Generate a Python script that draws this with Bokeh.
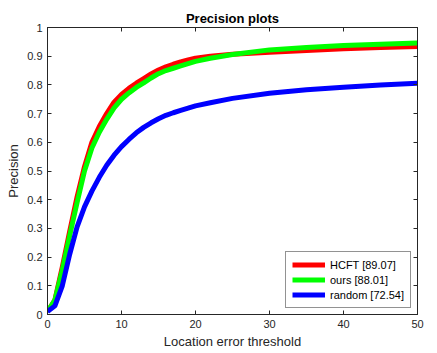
from bokeh.plotting import figure
from bokeh.models import LinearAxis, Range1d, Legend, LegendItem, FixedTicker, CustomJSTickFormatter
from bokeh.embed import file_html
from bokeh.resources import INLINE

thresholds = [0, 1, 2, 3, 4, 5, 6, 7, 8, 9, 10, 11, 12, 13, 14, 15, 16, 17, 18, 19, 20,
              22, 25, 30, 35, 40, 45, 50]
hcft = [0.01, 0.05, 0.165, 0.29, 0.41, 0.515, 0.60, 0.655, 0.70, 0.74, 0.767, 0.788, 0.806,
        0.822, 0.838, 0.852, 0.863, 0.872, 0.88, 0.887, 0.893, 0.90, 0.907, 0.914,
        0.92, 0.926, 0.93, 0.934]
ours = [0.01, 0.05, 0.155, 0.275, 0.39, 0.50, 0.58, 0.635, 0.68, 0.72, 0.75, 0.772, 0.791,
        0.807, 0.824, 0.839, 0.85, 0.858, 0.866, 0.874, 0.882, 0.893, 0.906, 0.922,
        0.93, 0.937, 0.942, 0.946]
rand = [0.01, 0.03, 0.10, 0.21, 0.305, 0.375, 0.43, 0.478, 0.52, 0.555, 0.585, 0.61, 0.633,
        0.652, 0.668, 0.682, 0.694, 0.703, 0.711, 0.719, 0.727, 0.738, 0.753, 0.771,
        0.783, 0.792, 0.80, 0.806]
labels = ["HCFT [89.07]", "ours [88.01]", "random [72.54]"]
colors = ["#ff0000", "#00ff00", "#0000ff"]
x_ticks = [0, 10, 20, 30, 40, 50]
y_ticks = [0, 0.1, 0.2, 0.3, 0.4, 0.5, 0.6, 0.7, 0.8, 0.9, 1]

FONT = "Liberation Sans"
AX = "#262626"

p = figure(width=437, height=353, output_backend="svg", toolbar_location=None,
           x_range=Range1d(0, 50), y_range=Range1d(0, 1),
           min_border_left=47, min_border_right=20, min_border_top=27, min_border_bottom=39)
p.title.text = "Precision plots"
p.title.align = "center"
p.title.text_font = FONT
p.title.text_font_size = "13px"
p.title.text_font_style = "bold"
p.title.text_color = "#000000"
p.title.standoff = 4
p.grid.visible = False
p.outline_line_color = AX

for ax, ticks in ((p.xaxis[0], x_ticks), (p.yaxis[0], y_ticks)):
    ax.ticker = FixedTicker(ticks=ticks)
    ax.major_tick_in = 4
    ax.major_tick_out = 0
    ax.minor_tick_line_color = None
    ax.axis_line_color = AX
    ax.major_tick_line_color = AX
    ax.major_label_text_font = FONT
    ax.major_label_text_font_size = "11px"
    ax.major_label_text_color = AX
    ax.axis_label_text_font = FONT
    ax.axis_label_text_font_size = "13px"
    ax.axis_label_text_font_style = "normal"
    ax.axis_label_text_color = AX
    ax.major_label_standoff = 5
    ax.axis_label_standoff = 3
p.xaxis[0].axis_label = "Location error threshold"
p.yaxis[0].axis_label = "Precision"
p.yaxis[0].major_label_orientation = "horizontal"

blank = CustomJSTickFormatter(code="return '';")
top = LinearAxis(ticker=FixedTicker(ticks=x_ticks), formatter=blank, major_tick_in=4,
                 major_tick_out=0, minor_tick_line_color=None, axis_line_color=AX,
                 major_tick_line_color=AX, major_label_standoff=0)
right = LinearAxis(ticker=FixedTicker(ticks=y_ticks), formatter=blank, major_tick_in=4,
                   major_tick_out=0, minor_tick_line_color=None, axis_line_color=AX,
                   major_tick_line_color=AX, major_label_standoff=0)
p.add_layout(top, "above")
p.add_layout(right, "right")

items = []
for ys, lab, col in zip([hcft, ours, rand], labels, colors):
    r = p.line(thresholds, ys, line_color=col, line_width=5, line_join="round")
    items.append(LegendItem(label=lab, renderers=[r]))

legend = Legend(items=items, location="bottom_right")
legend.label_text_font = FONT
legend.label_text_font_size = "11px"
legend.label_text_color = "#000000"
legend.border_line_color = AX
legend.border_line_width = 1
legend.glyph_width = 33
legend.glyph_height = 13
legend.label_height = 13
legend.spacing = 2
legend.padding = 6
legend.margin = 6
legend.label_standoff = 5
p.add_layout(legend)

open("out.html", "w").write(file_html(p, INLINE))
